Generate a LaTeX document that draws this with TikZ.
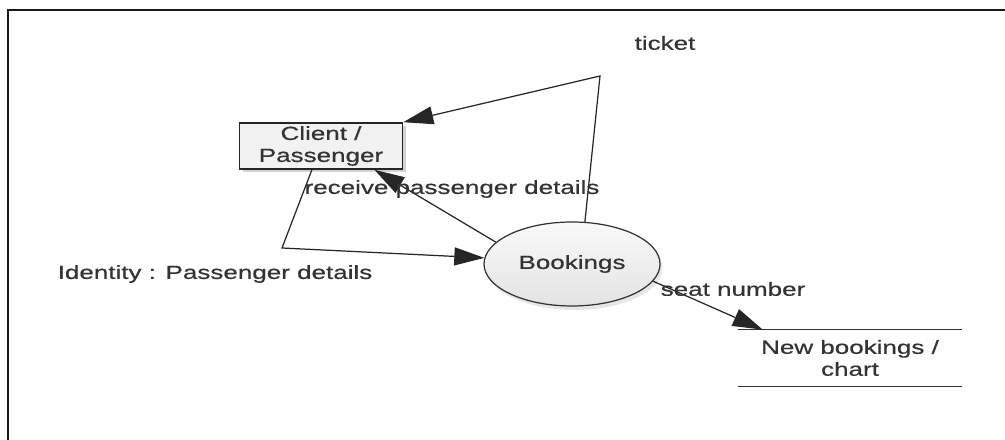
\documentclass[tikz,border=0pt]{standalone}
\usepackage{fontspec}
\setmainfont{Liberation Sans}[FakeStretch=1.37, FakeBold=0.6]
\usepackage{tikz}
\usetikzlibrary{shapes.geometric}
\usetikzlibrary{positioning, arrows.meta, shadows}

\begin{document}
\begin{tikzpicture}[x=0.2mm, y=-0.2mm,
		every node/.style={font=\fontsize{10.8}{12.5}\selectfont, text=black!80},
		entity/.style={
			rectangle,
			draw=black!85,
			line width=0.9pt,
			fill=gray!10,
			align=center,
			minimum width=32.6mm,
			minimum height=9.2mm,
			inner sep=0pt,
			drop shadow={opacity=0.35, shadow xshift=0.6mm, shadow yshift=-0.6mm}},
		process/.style={
			ellipse,
			draw=black!80,
			line width=0.7pt,
			top color=gray!4,
			bottom color=gray!22,
			minimum width=35.2mm,
			minimum height=16.8mm,
			inner sep=0pt,
			drop shadow={opacity=0.2, shadow xshift=0.5mm, shadow yshift=-0.8mm}},
		store/.style={
			rectangle,
			align=center,
			minimum width=44.8mm,
			minimum height=11.2mm,
			inner sep=0pt},
		flow/.style={
			draw=black!85,
			line width=0.7pt,
			-{Triangle[length=6mm, width=3.6mm]}}
		]
		\useasboundingbox (0,0) rectangle (1005,440);
		
		% frame
		\draw[line width=1.2pt, black!90] (1005,10) -- (8,10) -- (8,440);
		
		% draw entity, process and data store
		\node[entity] (client) at (321,146) {Client /\\Passenger};
		\node[process] (bookings) at (572,264) {Bookings};
		\node[store] (chart) at (850,358) {New bookings /\\chart};
		\draw[line width=0.8pt, black!80] (chart.north west) -- (chart.north east);
		\draw[line width=0.8pt, black!80] (chart.south west) -- (chart.south east);
		
		% bend points
		\coordinate (tk) at (600,76);
		\coordinate (id) at (282,248);
		
		% data flows
		\draw[flow] (bookings.73) -- (tk) -- (client.north east);
		\draw[flow] (bookings.164) -- (client.-24);
		\draw[flow] (client.-111) -- (id) -- (bookings.176);
		\draw[flow] (bookings.-12) -- (chart.162);
		
		% flow labels
		\node (lticket) at (665,43) {ticket};
		\node (lreceive) at (452,189) {receive passenger details};
		\node (lident) at (215,274) {Identity : Passenger details};
		\node (lseat) at (733,289) {seat number};
	\end{tikzpicture}
\end{document}
